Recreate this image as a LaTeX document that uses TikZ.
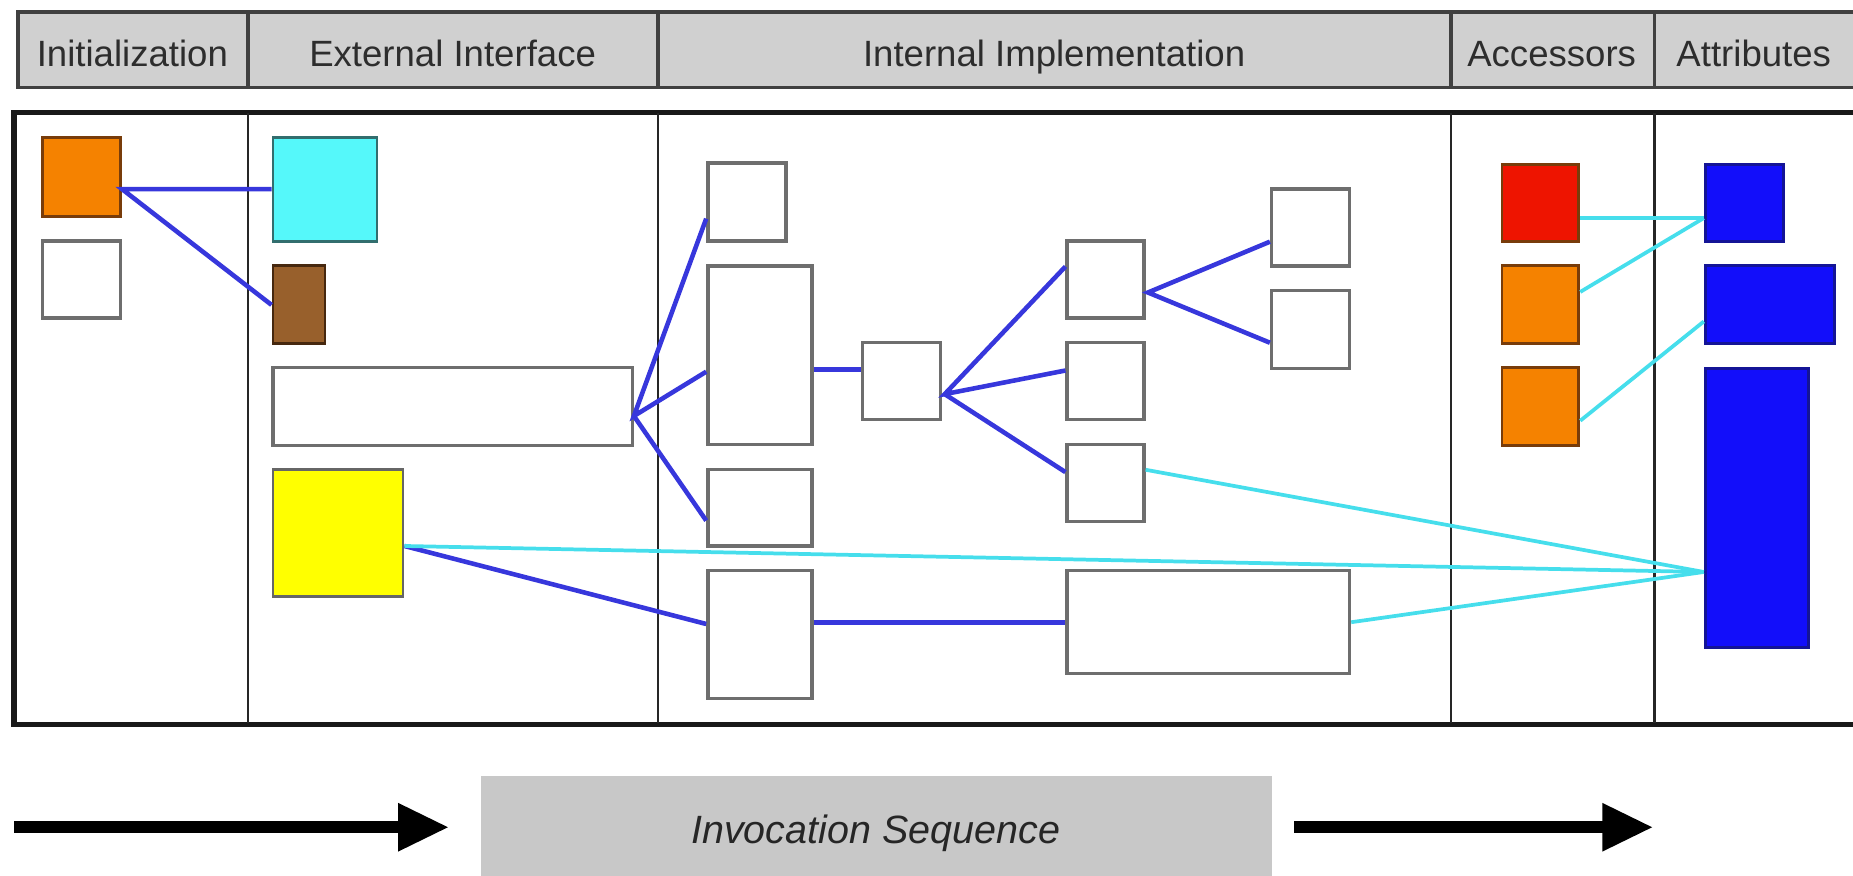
\documentclass[tikz,border=0pt]{standalone}
\usepackage{fontspec}
\setmainfont{Liberation Sans}
\usetikzlibrary{fit,arrows.meta,calc}
\definecolor{hdrgray}{RGB}{208,208,208}
\definecolor{seqgray}{RGB}{200,200,200}
\definecolor{boxline}{RGB}{110,110,110}
\definecolor{txtgray}{RGB}{45,45,45}
\definecolor{orangefill}{RGB}{245,130,0}
\definecolor{orangeline}{RGB}{120,60,10}
\definecolor{cyanfill}{RGB}{85,248,250}
\definecolor{cyanline}{RGB}{50,110,110}
\definecolor{brownfill}{RGB}{152,96,44}
\definecolor{brownline}{RGB}{70,40,15}
\definecolor{yellowfill}{RGB}{255,255,0}
\definecolor{redfill}{RGB}{238,20,0}
\definecolor{bluefill}{RGB}{18,14,250}
\definecolor{blueline}{RGB}{20,20,150}
\definecolor{linkblue}{RGB}{55,55,220}
\definecolor{linkcyan}{RGB}{70,222,236}
\tikzset{
  hcell/.style={draw=black!75, line width=0.9pt, fill=hdrgray, inner sep=0pt},
  htext/.style={text=txtgray, font=\fontsize{8.8}{11}\selectfont, inner sep=0pt, text height=6.4pt, text depth=0pt, anchor=center},
  wbox/.style={draw=boxline, line width=0.8pt, fill=white, inner sep=0pt},
  obox/.style={draw=orangeline, line width=0.7pt, fill=orangefill, inner sep=0pt},
  cbox/.style={draw=cyanline, line width=0.7pt, fill=cyanfill, inner sep=0pt},
  brbox/.style={draw=brownline, line width=0.7pt, fill=brownfill, inner sep=0pt},
  ybox/.style={draw=black!60, line width=0.7pt, fill=yellowfill, inner sep=0pt},
  rbox/.style={draw=orangeline, line width=0.7pt, fill=redfill, inner sep=0pt},
  bbox/.style={draw=blueline, line width=0.7pt, fill=bluefill, inner sep=0pt},
  lnk/.style={draw=linkblue, line width=1.1pt},
  lnc/.style={draw=linkcyan, line width=0.9pt},
  divider/.style={draw=black!85, line width=0.5pt},
  bigarrow/.style={draw=black, line width=2.8pt, -{Triangle[length=0.43cm,width=0.38cm]}},
}
\begin{document}
\begin{tikzpicture}[x=0.01cm,y=-0.01cm]
\useasboundingbox (0,0) rectangle (1568,741);
\clip (0,0) rectangle (1568,741);

% header row
\node[hcell, fit={(15,10) (210,74)}] (h1) {};
\node[hcell, fit={(210,10) (557,74)}] (h2) {};
\node[hcell, fit={(557,10) (1228,74)}] (h3) {};
\node[hcell, fit={(1228,10) (1400,74)}] (h4) {};
\node[hcell, fit={(1400,10) (1600,74)}] (h5) {};
\node[htext] (t1) at (112,45) {Initialization};
\node[htext] (t2) at (383,45) {External Interface};
\node[htext] (t3) at (892,45) {Internal Implementation};
\node[htext] (t4) at (1313,45) {Accessors};
\node[htext] (t5) at (1484,45) {Attributes};

% main frame
\draw[line width=1.3pt, draw=black!90] (12,95) rectangle (1620,613);
\foreach \x in {210,557,1228,1400} \draw[divider] (\x,96) -- (\x,612);

% initialization
\node[obox, fit={(36,116) (102,183)}] (init1) {};
\node[wbox, fit={(36,204) (102,269)}] (init2) {};
% external interface
\node[cbox, fit={(231,116) (319,204)}] (cy) {};
\node[brbox, fit={(231,225) (275,291)}] (br) {};
\node[wbox, fit={(231,311) (535,377)}] (long) {};
\node[ybox, fit={(231,397) (341,505)}] (ye) {};
% internal implementation
\node[wbox, fit={(599,138) (665,204)}] (A) {};
\node[wbox, fit={(599,225) (687,376)}] (B) {};
\node[wbox, fit={(599,397) (687,462)}] (C) {};
\node[wbox, fit={(599,483) (687,591)}] (D) {};
\node[wbox, fit={(730,290) (796,355)}] (E) {};
\node[wbox, fit={(903,204) (968,269)}] (F) {};
\node[wbox, fit={(903,290) (968,355)}] (G) {};
\node[wbox, fit={(903,376) (968,441)}] (H) {};
\node[wbox, fit={(903,483) (1142,570)}] (I) {};
\node[wbox, fit={(1076,160) (1142,225)}] (J) {};
\node[wbox, fit={(1076,246) (1142,312)}] (K) {};
% accessors
\node[rbox, fit={(1271,139) (1336,204)}] (red) {};
\node[obox, fit={(1271,225) (1336,291)}] (or2) {};
\node[obox, fit={(1271,311) (1336,377)}] (or3) {};
% attributes
\node[bbox, fit={(1443,139) (1509,204)}] (bl1) {};
\node[bbox, fit={(1443,225) (1552,291)}] (bl2) {};
\node[bbox, fit={(1443,312) (1530,548)}] (bl3) {};

% connection points
\coordinate (p0) at (cy.west -| init1.east);
\coordinate (f1) at ($(long.east)+(0,8)$);
\coordinate (f2) at ($(E.east)+(2,11)$);
\coordinate (f3) at ($(F.east)+(2,11)$);
\coordinate (ys) at ($(ye.east)+(0,11)$);
\coordinate (b3) at ($(bl3.west)+(0,54)$);
\coordinate (b1) at ($(bl1.west)+(0,13)$);
\coordinate (be) at ($(B.east)+(0,12)$);

% blue links
\draw[lnk] (cy.west) -- (p0) -- (br.west);
\draw[lnk] ($(A.west)+(0,14)$) -- (f1) -- ($(B.west)+(0,14)$);
\draw[lnk] (f1) -- ($(C.west)+(0,11)$);
\draw[lnk] (be) -- (be -| E.west);
\draw[lnk] ($(F.west)+(0,-11)$) -- (f2) -- ($(G.west)+(0,-9)$);
\draw[lnk] (f2) -- ($(H.west)+(0,-9)$);
\draw[lnk] ($(J.west)+(0,12)$) -- (f3) -- ($(K.west)+(0,11)$);
\draw[lnk] (ys) -- ($(D.west)+(0,-9)$);
\draw[lnk] (I.west -| D.east) -- (I.west);

% cyan links
\draw[lnc] (ys) -- (b3);
\draw[lnc] ($(H.east)+(0,-11)$) -- (b3);
\draw[lnc] (I.east) -- (b3);
\draw[lnc] ($(red.east)+(0,13)$) -- (b1);
\draw[lnc] ($(or2.east)+(0,-11)$) -- (b1);
\draw[lnc] ($(or3.east)+(0,12)$) -- ($(bl2.west)+(0,14)$);

% invocation sequence
\node[fill=seqgray, inner sep=0pt, fit={(407,657) (1076,760)}] (seq) {};
\node[font=\itshape\fontsize{9.5}{11}\selectfont, text=black!85] (seqtxt) at (741,705) {Invocation Sequence};
\coordinate (la) at (12,700);
\coordinate (lb) at (380,700);
\coordinate (ra) at (1095,700);
\coordinate (rb) at (1399,700);
\draw[bigarrow] (la) -- (lb);
\draw[bigarrow] (ra) -- (rb);
\end{tikzpicture}
\end{document}
